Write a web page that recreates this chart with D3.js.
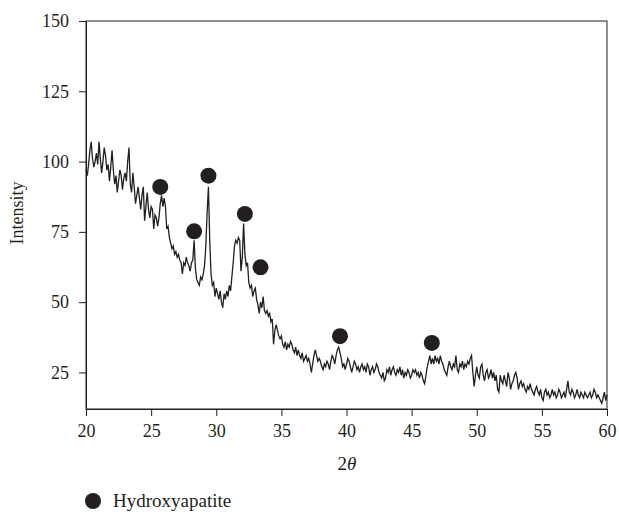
<!DOCTYPE html>
<html lang="en">
<head>
    <meta charset="UTF-8">
    <title>XRD pattern</title>
    <script src="https://d3js.org/d3.v7.min.js"></script>
    <style>
        body {
            margin: 0;
            padding: 0;
            background: #fff;
        }
        text {
            font-family: "Liberation Serif", "DejaVu Serif", serif;
            fill: #231f20;
        }
    </style>
</head>
<body>
    <svg width="619" height="517"></svg>

    <script>
        // scan grid: 20 to 60 deg, 0.1 deg step (one row per degree)
        const thetaStart = 20;
        const thetaStep = 0.1;
        const intensity = [
            97, 95, 99, 104, 107, 101, 98, 100, 103, 99,
            107, 101, 96, 100, 105, 102, 97, 99, 93, 98,
            104, 97, 92, 95, 89, 93, 97, 95, 90, 94,
            96, 93, 100, 105, 92, 89, 96, 91, 85, 88,
            91, 87, 83, 88, 91, 79, 84, 89, 83, 80,
            84, 83, 76, 81, 80, 77, 80, 85, 88, 84,
            87, 84, 76, 77, 73, 71, 69, 70, 67, 68,
            66, 67, 65, 64, 60, 64, 63, 66, 64, 63,
            61, 64, 65, 72, 62, 58, 57, 56, 59, 58,
            60, 63, 70, 82, 91, 72, 60, 56, 57, 52,
            55, 53, 51, 54, 50, 48, 53, 51, 54, 52,
            56, 54, 59, 64, 70, 72, 71, 73, 72, 61,
            66, 78, 67, 63, 64, 57, 55, 56, 52, 54,
            55, 51, 49, 46, 50, 48, 52, 47, 46, 47,
            45, 46, 43, 44, 35, 40, 42, 40, 38, 37,
            38, 35, 34, 36, 33, 35, 34, 36, 35, 33,
            32, 34, 31, 33, 31, 30, 32, 29, 30, 31,
            29, 30, 28, 25, 28, 31, 33, 31, 29, 30,
            29, 27, 26, 28, 27, 29, 28, 26, 29, 31,
            30, 28, 31, 33, 34, 32, 30, 27, 28, 26,
            28, 30, 29, 27, 25, 27, 29, 28, 26, 27,
            25, 27, 28, 26, 27, 25, 28, 27, 24, 26,
            27, 25, 26, 28, 27, 25, 24, 23, 25, 22,
            23, 26, 25, 27, 24, 26, 27, 25, 24, 26,
            25, 27, 24, 26, 23, 25, 24, 26, 25, 23,
            24, 26, 25, 26, 24, 25, 23, 25, 24, 22,
            21, 24, 27, 29, 31, 28, 30, 28, 31, 29,
            30, 28, 31, 29, 28, 26, 25, 24, 27, 29,
            27, 26, 28, 27, 31, 26, 25, 28, 27, 29,
            26, 28, 27, 29, 28, 30, 31, 25, 20, 24,
            27, 24, 23, 27, 28, 24, 22, 25, 26, 23,
            24, 26, 23, 25, 22, 24, 19, 18, 24, 22,
            21, 24, 22, 20, 25, 23, 19, 21, 22, 24,
            25, 23, 19, 21, 22, 20, 21, 19, 18, 20,
            19, 21, 19, 18, 17, 19, 20, 18, 17, 19,
            16, 15, 18, 19, 17, 18, 16, 17, 19, 17,
            18, 16, 17, 19, 18, 16, 17, 18, 16, 19,
            22, 18, 17, 19, 18, 16, 17, 19, 17, 16,
            18, 17, 16, 18, 17, 16, 17, 18, 16, 17,
            19, 18, 16, 17, 16, 15, 14, 16, 18, 15,
            17
        ];

        // hydroxyapatite peaks
        const peakTheta = [25.7, 28.3, 29.4, 32.2, 33.4, 39.5, 46.55];
        const peakIntensity = [91, 75.2, 95, 81.4, 62.4, 37.9, 35.5];

        const xTicks = [20, 25, 30, 35, 40, 45, 50, 55, 60];
        const yTicks = [25, 50, 75, 100, 125, 150];

        const data = intensity.map((v, i) => ({ t: thetaStart + i * thetaStep, v: v }));

        const svg = d3.select("svg");
        const mLeft = 86, mRight = 607, mTop = 21, mBottom = 409;

        const x = d3.scaleLinear().domain([20, 60]).range([mLeft, mRight]);
        const y = d3.scaleLinear().domain([12, 150]).range([mBottom, mTop]);

        const ink = "#231f20";

        // frame
        svg.append("rect")
            .attr("x", mLeft).attr("y", mTop)
            .attr("width", mRight - mLeft).attr("height", mBottom - mTop)
            .attr("fill", "none").attr("stroke", ink).attr("stroke-width", 1);

        const xAxis = svg.append("g")
            .attr("transform", `translate(0,${mBottom})`)
            .call(d3.axisBottom(x).tickValues(xTicks).tickSize(7).tickSizeOuter(0).tickPadding(8));
        const yAxis = svg.append("g")
            .attr("transform", `translate(${mLeft},0)`)
            .call(d3.axisLeft(y).tickValues(yTicks).tickSize(7).tickSizeOuter(0).tickPadding(10));

        [xAxis, yAxis].forEach(a => {
            a.select(".domain").attr("stroke", ink);
            a.selectAll(".tick line").attr("stroke", ink);
            a.selectAll(".tick text")
                .style("font-family", '"Liberation Serif", serif')
                .style("font-size", "18px")
                .attr("fill", ink);
        });

        const line = d3.line()
            .x(d => x(d.t))
            .y(d => y(d.v));

        svg.append("path")
            .datum(data)
            .attr("d", line)
            .attr("fill", "none")
            .attr("stroke", ink)
            .attr("stroke-width", 1.3)
            .attr("stroke-linejoin", "miter");

        svg.selectAll("circle.peak")
            .data(peakTheta)
            .enter()
            .append("circle")
            .attr("class", "peak")
            .attr("cx", d => x(d))
            .attr("cy", (d, i) => y(peakIntensity[i]))
            .attr("r", 8)
            .attr("fill", ink);

        // axis titles
        svg.append("text")
            .attr("transform", "translate(23,213) rotate(-90)")
            .attr("text-anchor", "middle")
            .style("font-size", "18px")
            .text("Intensity");

        const xt = svg.append("text")
            .attr("x", 347).attr("y", 470)
            .attr("text-anchor", "middle")
            .style("font-size", "19px");
        xt.append("tspan").text("2");
        xt.append("tspan").style("font-style", "italic").text("θ");

        // legend
        svg.append("circle")
            .attr("cx", 93).attr("cy", 501).attr("r", 8).attr("fill", ink);
        svg.append("text")
            .attr("x", 113).attr("y", 507)
            .style("font-size", "19px")
            .text("Hydroxyapatite");
    </script>
</body>
</html>
